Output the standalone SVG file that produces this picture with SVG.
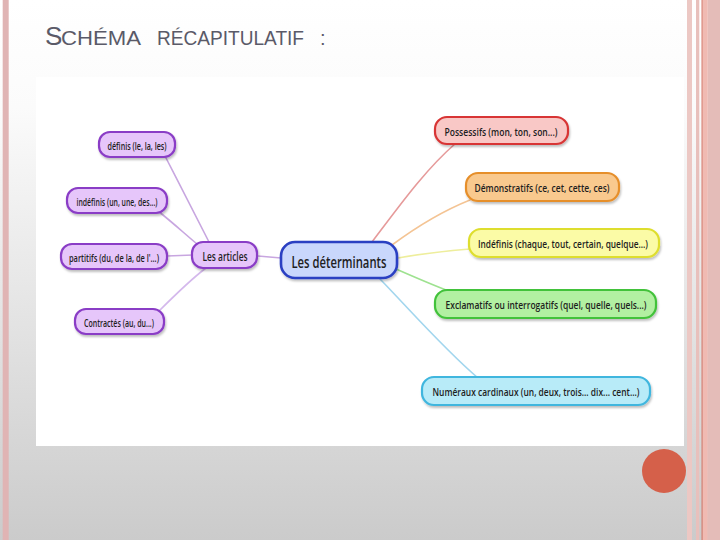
<svg xmlns="http://www.w3.org/2000/svg" width="720" height="540" viewBox="0 0 720 540">
<defs>
<linearGradient id="bg" x1="0" y1="0" x2="0" y2="1">
<stop offset="0" stop-color="#ffffff"/>
<stop offset="0.2" stop-color="#fbfbfb"/>
<stop offset="1" stop-color="#cbcbcb"/>
</linearGradient>
<filter id="sh" x="-10%" y="-20%" width="120%" height="150%">
<feDropShadow dx="1" dy="2" stdDeviation="1.2" flood-color="#000" flood-opacity="0.25"/>
</filter>
<style>
.t{font-family:"Open Sans","Liberation Sans",Arial,sans-serif;font-weight:600;fill:#1e1e1e;text-anchor:middle;dominant-baseline:central}
.s{font-size:11px}
.node rect{stroke-width:2.2;filter:url(#sh)}
.pu rect{fill:#e6c6fa;stroke:#8a3cc6}
.bl rect{fill:#c9d7fc;stroke:#2b3fc2;stroke-width:2.6}
.rd rect{fill:#f9c8c6;stroke:#d83434}
.or rect{fill:#f9c98e;stroke:#e68f2c}
.ye rect{fill:#fbfba6;stroke:#dede2e}
.gr rect{fill:#b2f0a2;stroke:#42c23a}
.cy rect{fill:#b8ebf8;stroke:#3fb6de}
#connectors path{fill:none;stroke-width:1.6;stroke-linecap:round}
.title{font-family:"Liberation Sans",Arial,sans-serif;fill:#5a5a68}
</style>
</defs>
<rect x="0" y="0" width="720" height="540" fill="url(#bg)"/>
<rect x="2.7" y="0" width="6" height="540" fill="#e0b4b4"/>
<rect x="687" y="0" width="5" height="540" fill="#ecc8c4"/>
<rect x="696" y="0" width="3.3" height="540" fill="#e8c0bc"/>
<rect x="701.5" y="0" width="1.3" height="540" fill="#d67a6c"/>
<rect x="702.8" y="0" width="5" height="540" fill="#f0bab2"/>
<rect x="707.8" y="0" width="12.2" height="540" fill="#e4bcb8"/>
<text class="title" y="45"><tspan x="45" font-size="26">S</tspan><tspan x="61" font-size="20" textLength="80" lengthAdjust="spacingAndGlyphs">CHÉMA</tspan><tspan x="157" font-size="20" textLength="147" lengthAdjust="spacingAndGlyphs">RÉCAPITULATIF</tspan><tspan x="320" font-size="20">:</tspan></text>
<rect x="36" y="77" width="648" height="369" fill="#ffffff"/>
<circle cx="664" cy="471" r="22" fill="#d5604a"/>

<g id="connectors">
<path d="M165,156 C180,185 195,215 209,242" stroke="#c8a6e0"/>
<path d="M158,211 C172,222 185,234 197,244" stroke="#c8a6e0"/>
<path d="M167,256 L193,255" stroke="#c8a6e0"/>
<path d="M158,312 C175,295 190,280 206,268" stroke="#d4b8ec"/>
<path d="M258,256 L281,258" stroke="#c8a6e0"/>
<path d="M372,242 C400,205 425,170 456,143" stroke="#e69a9a"/>
<path d="M392,245 C415,228 440,212 470,200" stroke="#f4c494"/>
<path d="M398,258 C420,254 445,251 470,249" stroke="#eeee9c"/>
<path d="M396,269 C412,276 428,283 446,290" stroke="#9ee290"/>
<path d="M380,279 C410,310 445,350 478,378" stroke="#a2d6ee"/>
</g>

<g id="n-definis" class="node pu"><rect x="99" y="132" width="76" height="25" rx="11"/><text class="t s" x="137" y="145" textLength="59" lengthAdjust="spacingAndGlyphs">définis (le, la, les)</text></g>
<g id="n-indefinis-art" class="node pu"><rect x="67" y="188" width="100" height="25" rx="11"/><text class="t s" x="117" y="201" textLength="81" lengthAdjust="spacingAndGlyphs">indéfinis (un, une, des...)</text></g>
<g id="n-partitifs" class="node pu"><rect x="61" y="244" width="106" height="25" rx="11"/><text class="t s" x="114" y="257" textLength="90" lengthAdjust="spacingAndGlyphs">partitifs (du, de la, de l'...)</text></g>
<g id="n-contractes" class="node pu"><rect x="75" y="309" width="89" height="25" rx="11"/><text class="t s" x="119" y="322" textLength="70" lengthAdjust="spacingAndGlyphs">Contractés (au, du...)</text></g>
<g id="n-articles" class="node pu"><rect x="192" y="242" width="65" height="26" rx="11"/><text class="t" font-size="13" x="225" y="255.5" textLength="45" lengthAdjust="spacingAndGlyphs">Les articles</text></g>
<g id="n-determinants" class="node bl"><rect x="281" y="242" width="116" height="36" rx="14"/><text class="t" font-size="17" x="339" y="261" textLength="95" lengthAdjust="spacingAndGlyphs">Les déterminants</text></g>
<g id="n-possessifs" class="node rd"><rect x="435" y="117" width="133" height="27" rx="12"/><text class="t s" x="501" y="131" textLength="113" lengthAdjust="spacingAndGlyphs">Possessifs (mon, ton, son...)</text></g>
<g id="n-demonstratifs" class="node or"><rect x="466" y="173" width="153" height="28" rx="12"/><text class="t s" x="542" y="187" textLength="135" lengthAdjust="spacingAndGlyphs">Démonstratifs (ce, cet, cette, ces)</text></g>
<g id="n-indefinis-det" class="node ye"><rect x="469" y="229" width="190" height="28" rx="12"/><text class="t s" x="563" y="243" textLength="170" lengthAdjust="spacingAndGlyphs">Indéfinis (chaque, tout, certain, quelque...)</text></g>
<g id="n-exclamatifs" class="node gr"><rect x="435" y="290" width="221" height="28" rx="12"/><text class="t s" x="546" y="304" textLength="201" lengthAdjust="spacingAndGlyphs">Exclamatifs ou interrogatifs (quel, quelle, quels...)</text></g>
<g id="n-numeraux" class="node cy"><rect x="422" y="377" width="228" height="28" rx="12"/><text class="t s" x="536" y="391.5" textLength="207" lengthAdjust="spacingAndGlyphs">Numéraux cardinaux (un, deux, trois... dix... cent...)</text></g>
</svg>
